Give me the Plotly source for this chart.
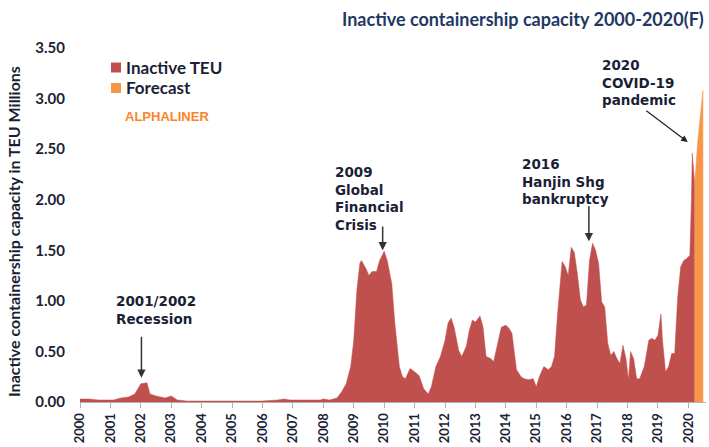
import plotly.graph_objects as go

# ---- data (decimal year, million TEU) ----
period = [
    2000.0, 2000.3, 2000.6, 2000.9, 2001.1, 2001.35, 2001.6, 2001.8, 2001.95, 2002.0,
    2002.2, 2002.3, 2002.5, 2002.8, 2003.0, 2003.2, 2003.5, 2004.0, 2005.0, 2006.0,
    2006.5, 2006.7, 2006.9, 2007.5, 2007.9, 2008.0, 2008.2, 2008.45, 2008.6, 2008.75,
    2008.9, 2009.0, 2009.1, 2009.2, 2009.25, 2009.4, 2009.5, 2009.6, 2009.75, 2009.85,
    2010.0, 2010.1, 2010.25, 2010.35, 2010.5, 2010.6, 2010.7, 2010.85, 2011.0, 2011.15,
    2011.3, 2011.45, 2011.55, 2011.7, 2011.85, 2012.0, 2012.1, 2012.2, 2012.3, 2012.45,
    2012.55, 2012.7, 2012.8, 2012.9, 2013.0, 2013.15, 2013.25, 2013.35, 2013.5, 2013.6,
    2013.75, 2013.85, 2014.0, 2014.1, 2014.2, 2014.35, 2014.5, 2014.6, 2014.75, 2014.9,
    2015.0, 2015.1, 2015.25, 2015.4, 2015.5, 2015.6, 2015.7, 2015.8, 2015.85, 2015.95,
    2016.05, 2016.15, 2016.25, 2016.35, 2016.45, 2016.55, 2016.65, 2016.75, 2016.85, 2016.95,
    2017.05, 2017.15, 2017.25, 2017.35, 2017.45, 2017.55, 2017.65, 2017.75, 2017.85, 2017.95,
    2018.03, 2018.1, 2018.2, 2018.3, 2018.4, 2018.55, 2018.7, 2018.8, 2018.9, 2019.0,
    2019.1, 2019.15, 2019.25, 2019.35, 2019.45, 2019.55, 2019.65, 2019.75, 2019.85, 2019.95,
    2020.05, 2020.1, 2020.13, 2020.17, 2020.21,
]
inactive_teu = [
    0.03, 0.03, 0.02, 0.02, 0.02, 0.04, 0.05, 0.08, 0.15, 0.18,
    0.19, 0.08, 0.06, 0.04, 0.06, 0.02, 0.01, 0.01, 0.01, 0.01,
    0.02, 0.03, 0.02, 0.02, 0.02, 0.03, 0.02, 0.04, 0.10, 0.18,
    0.35, 0.61, 1.10, 1.37, 1.40, 1.32, 1.25, 1.29, 1.29, 1.40,
    1.49, 1.40, 1.17, 0.78, 0.35, 0.25, 0.23, 0.33, 0.30, 0.26,
    0.13, 0.08, 0.15, 0.35, 0.45, 0.61, 0.78, 0.83, 0.74, 0.51,
    0.45, 0.55, 0.71, 0.81, 0.79, 0.85, 0.74, 0.45, 0.43, 0.40,
    0.61, 0.74, 0.76, 0.73, 0.68, 0.32, 0.25, 0.23, 0.22, 0.23,
    0.15, 0.25, 0.35, 0.32, 0.35, 0.45, 0.87, 1.20, 1.39, 1.34,
    1.25, 1.53, 1.48, 1.27, 1.01, 0.94, 0.96, 1.40, 1.57, 1.50,
    1.37, 0.99, 0.94, 0.58, 0.46, 0.50, 0.43, 0.38, 0.56, 0.43,
    0.22, 0.50, 0.43, 0.23, 0.23, 0.35, 0.61, 0.63, 0.61, 0.66,
    0.87, 0.61, 0.30, 0.35, 0.48, 0.48, 1.04, 1.34, 1.40, 1.42,
    1.45, 2.00, 2.46, 2.30, 2.15,
]
forecast_period = [2020.21, 2020.3, 2020.4, 2020.48, 2020.48]
forecast_teu = [2.15, 2.55, 2.85, 3.08, 0.0]

years = list(range(2000, 2021))
year_labels = [str(y) for y in years]
y_ticks = [0, 0.5, 1.0, 1.5, 2.0, 2.5, 3.0, 3.5]
y_tick_labels = ["%.2f" % v for v in y_ticks]

series_names = ["Inactive TEU", "Forecast"]
series_colors = ["#c0504d", "#f79646"]

events = [
    ("2001/2002<br>Recession", 2001.13, 1.10, 2002.02, 0.66, 0.24),
    ("2009<br>Global<br>Financial<br>Crisis", 2008.31, 2.37, 2009.95, 1.75, 1.50),
    ("2016<br>Hanjin Shg<br>bankruptcy", 2014.46, 2.45, 2016.73, 1.95, 1.59),
    ("2020<br>COVID-19<br>pandemic", 2017.09, 3.43, None, None, None),
]

W, H = 709, 447
PL, PT, PW, PH = 80, 48, 626, 354  # plot area in window pixels


def px(xw):
    return (xw - PL) / PW


def py(yw):
    return (PT + PH - yw) / PH


TXT = "#1b1f36"
fig = go.Figure()
fig.add_trace(go.Scatter(x=period, y=inactive_teu, name=series_names[0], mode="lines",
                         fill="tozeroy", fillcolor=series_colors[0],
                         line=dict(color=series_colors[0], width=0.5), showlegend=False))
fig.add_trace(go.Scatter(x=forecast_period, y=forecast_teu, name=series_names[1], mode="lines",
                         fill="tozeroy", fillcolor=series_colors[1],
                         line=dict(color=series_colors[1], width=0.5), showlegend=False))

ann = []
for text, tx, ty, axx, tail, tip in events:
    ann.append(dict(x=tx, y=ty, xref="x", yref="y", text=text, showarrow=False,
                    xanchor="left", yanchor="top", align="left",
                    font=dict(family="DejaVu Sans", size=13.5, color=TXT, weight="bold")))
    if axx is not None:
        ann.append(dict(x=axx, y=tip, ax=axx, ay=tail, xref="x", yref="y", axref="x", ayref="y",
                        text="", showarrow=True, arrowhead=2, arrowsize=1.1, arrowwidth=1.5,
                        arrowcolor="#333333"))
# COVID arrow (diagonal)
ann.append(dict(x=2019.98, y=2.57, ax=2018.57, ay=2.89, xref="x", yref="y", axref="x", ayref="y",
                text="", showarrow=True, arrowhead=2, arrowsize=1.1, arrowwidth=1.2,
                arrowcolor="#222222"))

# title
ann.append(dict(x=1.0, y=py(19), xref="paper", yref="paper", xanchor="right", yanchor="middle",
                text="Inactive containership capacity 2000-2020(F)", showarrow=False,
                font=dict(family="Lato", size=18, color="#1f3864", weight="bold")))
# partially visible page header (cut off at the top edge in the reference)
ann.append(dict(x=px(3), y=py(6), xref="paper", yref="paper", xanchor="left", yanchor="bottom",
                text="Chart of the week", showarrow=False,
                font=dict(family="Lato", size=24, color="#3b6ea5", weight="bold")))
# y-axis title
ann.append(dict(x=px(13), y=py(232), xref="paper", yref="paper", xanchor="center", yanchor="middle",
                text="Inactive containership capacity in TEU Millions", textangle=-90, showarrow=False,
                font=dict(family="Lato", size=16, color=TXT, weight="bold")))
# legend
shapes = []
for i, (nm, col) in enumerate(zip(series_names, series_colors)):
    cy = 67.5 + i * 20.5
    shapes.append(dict(type="rect", xref="paper", yref="paper",
                       x0=px(111), x1=px(121), y0=py(cy + 5), y1=py(cy - 5),
                       fillcolor=col, line=dict(width=0)))
    ann.append(dict(x=px(124), y=py(cy), xref="paper", yref="paper",
                    xanchor="left", yanchor="middle", text=nm, showarrow=False,
                    font=dict(family="Lato", size=17, color=TXT, weight="bold")))
ann.append(dict(x=px(123), y=py(116), xref="paper", yref="paper",
                xanchor="left", yanchor="middle", text="ALPHALINER", showarrow=False,
                font=dict(family="Liberation Sans", size=13, color="#fa8528", weight="bold")))

fig.update_layout(
    width=W, height=H,
    margin=dict(l=PL, r=W - PL - PW, t=PT, b=H - PT - PH),
    paper_bgcolor="white", plot_bgcolor="white",
    annotations=ann, shapes=shapes, showlegend=False,
    xaxis=dict(range=[2000, 2020.58], tickvals=years, ticktext=year_labels, tickangle=-90,
               showgrid=False, zeroline=False, showline=True, linecolor="#b0b0b0", linewidth=1,
               ticks="outside", ticklen=5, tickcolor="#b0b0b0", automargin=False,
               tickfont=dict(family="Lato", size=13, color=TXT, weight="bold")),
    yaxis=dict(range=[0, 3.5], tickvals=y_ticks, ticktext=y_tick_labels,
               showgrid=False, zeroline=False, showline=False, ticks="", automargin=False,
               ticklabelstandoff=14,
               tickfont=dict(family="Lato", size=15, color=TXT, weight="bold")),
)
fig.write_html("out.html", config={"displayModeBar": False},
               post_script="document.body.style.margin='0';document.body.style.overflow='hidden';")
